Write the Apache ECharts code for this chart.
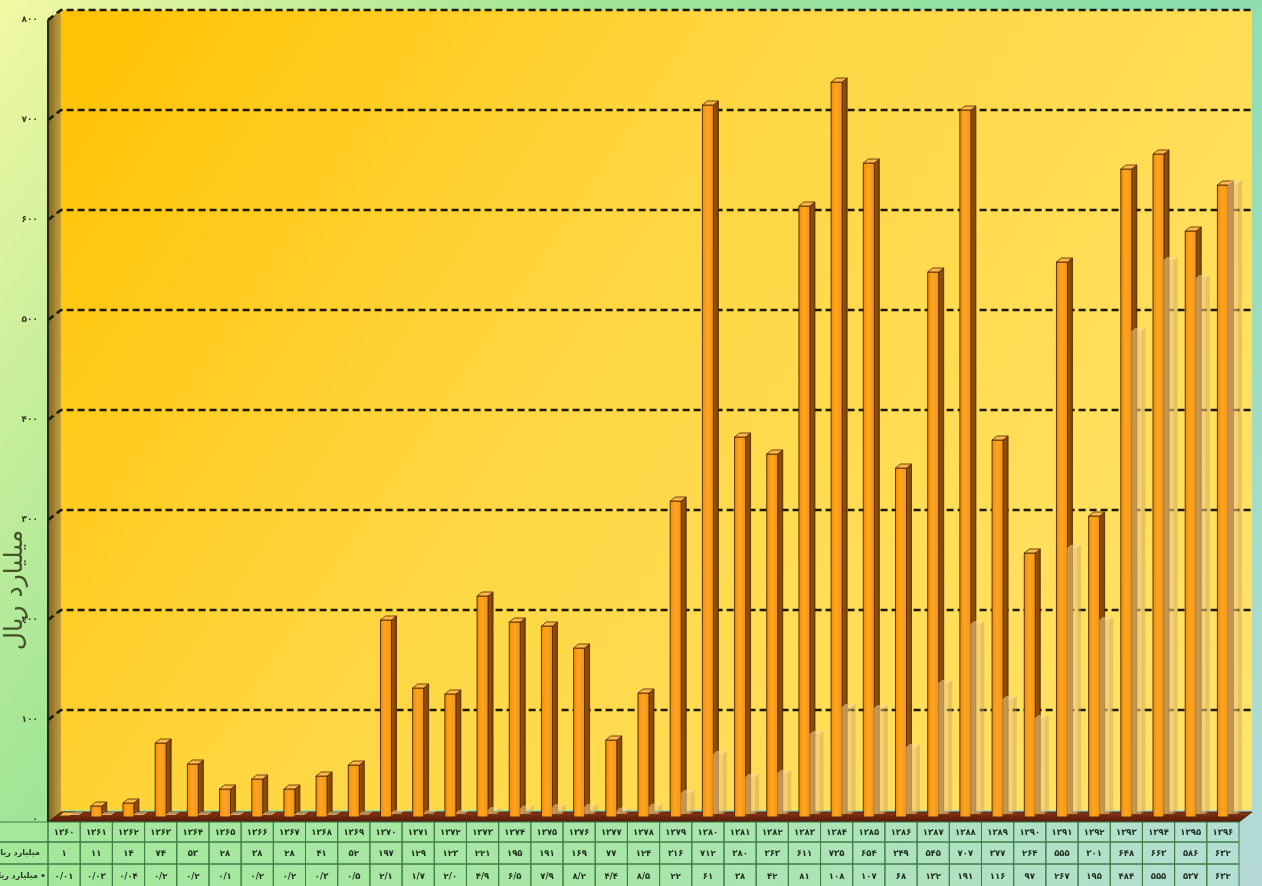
<!DOCTYPE html>
<html><head><meta charset="utf-8">
<script src="https://cdn.jsdelivr.net/npm/echarts@6/dist/echarts.min.js"></script>
<style>html,body{margin:0;padding:0;background:#fff}#c{width:1262px;height:886px;}</style>
</head><body><div id="c"></div>
<script>
// ---- data ----
const years = [1360,1361,1362,1363,1364,1365,1366,1367,1368,1369,1370,1371,1372,1373,1374,1375,1376,1377,1378,1379,1380,1381,1382,1383,1384,1385,1386,1387,1388,1389,1390,1391,1392,1393,1394,1395,1396];
const values1 = [1,11,14,74,53,28,38,28,41,52,197,129,123,221,195,191,169,77,124,316,712,380,363,611,735,654,349,545,707,377,264,555,301,648,663,586,632];
const values2 = [0.01,0.03,0.04,0.2,0.2,0.1,0.2,0.2,0.3,0.5,2.1,1.7,2.0,4.9,6.5,7.9,8.2,4.4,8.5,22,61,38,42,81,108,107,68,132,191,116,97,267,195,484,555,537,632];
const yTicks = [0,100,200,300,400,500,600,700,800];
const axisTitle = 'میلیارد ریال';
const rowLabel1 = 'میلیارد ریال';
const rowLabel2 = 'میلیارد ریال';

// ---- helpers ----
const FONT = "'DejaVu Sans', sans-serif";
const FA = '۰۱۲۳۴۵۶۷۸۹';
function toFa(s){ return String(s).replace(/\d/g, d => FA[+d]).replace('.', '/'); }
function fmt2(v){ if (v < 0.1) return v.toFixed(2); if (v < 10) return v.toFixed(1); return String(Math.round(v)); }
const DX = 13, DY = -10;
const lin = (x,y,x2,y2,stops) => ({type:'linear', x, y, x2, y2, colorStops: stops.map(s => ({offset:s[0], color:s[1]}))});

const chart = echarts.init(document.getElementById('c'), null, {renderer:'canvas'});

function renderScene(params, api){
  const cs = params.coordSys;
  const x0 = cs.x, x1 = cs.x + cs.width;
  const yBase = api.coord([0, yTicks[0]])[1];
  const yTop = api.coord([0, yTicks[yTicks.length-1]])[1];
  const ch = [];
  ch.push({type:'rect', shape:{x:x0+DX, y:yTop+DY, width:cs.width, height:yBase-yTop},
    style:{fill: lin(0,0,1,1,[[0,'#FFC200'],[0.4,'#FFD640'],[1,'#FFE46C']])}});
  ch.push({type:'polygon', shape:{points:[[x0,yTop],[x0+DX,yTop+DY],[x0+DX,yBase+DY+2],[x0,yBase+2]]},
    style:{fill: lin(0,0,1,0,[[0,'#806622'],[1,'#c4a03c']])}});
  ch.push({type:'polygon', shape:{points:[[x0,yBase+2],[x1,yBase+2],[x1+DX,yBase+DY+2],[x0+DX,yBase+DY+2]]},
    style:{fill: lin(0,0,0,1,[[0,'#8e3a18'],[0.5,'#6e2610'],[1,'#551a08']]), stroke:'#3a1204', lineWidth:0.8}});
  yTicks.forEach(v => {
    if (v === 0) return;
    const y = api.coord([0, v])[1];
    ch.push({type:'polyline', shape:{points:[[x0,y],[x0+DX,y+DY],[x1+DX,y+DY]]},
      style:{stroke:'#1d1a0c', lineWidth:2.6, lineDash:[7,4], fill:null}});
  });
  ch.push({type:'line', shape:{x1:x0, y1:yTop, x2:x0, y2:yBase+2}, style:{stroke:'#2a2610', lineWidth:2}});
  const T0 = yBase+2, T1 = T0+20, T2 = T1+22, T3 = 887;
  ch.push({type:'rect', shape:{x:0, y:T0, width:x1, height:T3-T0},
    style:{fill: lin(0,0,1,0,[[0,'#A4E89A'],[0.5,'#A8E6A8'],[1,'#B4DFD4']])}});
  [[T0,T1],[T1,T2],[T2,T3]].forEach(r => {
    ch.push({type:'rect', shape:{x:-1, y:r[0], width:x0+1, height:r[1]-r[0]},
      style:{fill:null, stroke:'#3f7d48', lineWidth:1}});
  });
  ch.push({type:'text', style:{text:rowLabel1, x:x0-8, y:(T1+T2)/2, align:'right', verticalAlign:'middle', font:'bold 8px '+FONT, fill:'#2a3a2a'}});
  ch.push({type:'text', style:{text:rowLabel2, x:x0-10, y:(T2+T3)/2, align:'right', verticalAlign:'middle', font:'bold 8px '+FONT, fill:'#2a3a2a'}});
  ch.push({type:'circle', shape:{cx:x0-5, cy:(T2+T3)/2, r:1.5}, style:{fill:'#2a3a2a'}});
  return {type:'group', children: ch};
}

function renderTable(params, api){
  const i = api.value(0);
  const c = api.coord([i, 0])[0];
  const base = api.coord([i, 0])[1];
  const bw = api.size([1, 0])[0];
  const l = c - bw/2;
  const T0 = base+2, T1 = T0+20, T2 = T1+22, T3 = 887;
  const rows = [[T0,T1],[T1,T2],[T2,T3]];
  const texts = [toFa(years[i]), toFa(values1[i]), toFa(fmt2(values2[i]))];
  const ch = [];
  rows.forEach((r, k) => {
    ch.push({type:'rect', shape:{x:l, y:r[0], width:bw, height:r[1]-r[0]}, style:{fill:null, stroke:'#3f7d48', lineWidth:1}});
    ch.push({type:'text', style:{text:texts[k], x:c, y:(r[0]+r[1])/2+1, align:'center', verticalAlign:'middle', font:'bold 8.5px '+FONT, fill:'#1e2e1e'}});
  });
  return {type:'group', children: ch};
}

function renderMain(params, api){
  const i = api.value(0), v = api.value(1);
  const top = api.coord([i, v]), base = api.coord([i, 0]);
  const cx = top[0], yt = top[1]-3, yb = base[1]-3;
  const w = 11, sx = 5, sy = 4;
  const l = cx - w/2, r = cx + w/2;
  const st = '#4a2500';
  return {type:'group', children:[
    {type:'polygon', shape:{points:[[r,yb],[r+sx,yb-sy],[r+sx,yt-sy],[r,yt]]}, style:{fill:lin(0,0,1,0,[[0,'#9c5508'],[1,'#7a4206']]), stroke:st, lineWidth:0.8}},
    {type:'rect', shape:{x:l, y:yt, width:w, height:yb-yt}, style:{fill:lin(0,0,1,0,[[0,'#f08a08'],[0.45,'#ffa522'],[1,'#f39212']]), stroke:st, lineWidth:0.9}},
    {type:'polygon', shape:{points:[[l,yt],[r,yt],[r+sx,yt-sy],[l+sx,yt-sy]]}, style:{fill:'#ffb848', stroke:st, lineWidth:0.8}}
  ]};
}

function renderBack(params, api){
  const i = api.value(0), v = api.value(1);
  const top = api.coord([i, v]), base = api.coord([i, 0]);
  const cx = top[0], yt = top[1]-5, yb = base[1]-6;
  const l = cx + 5, w = 10, sx = 4, sy = 3;
  const r = l + w;
  return {type:'group', children:[
    {type:'rect', shape:{x:l, y:yt, width:w, height:yb-yt}, style:{fill:'rgba(236,200,130,0.6)'}},
    {type:'polygon', shape:{points:[[r,yb],[r+sx,yb-sy],[r+sx,yt-sy],[r,yt]]}, style:{fill:'rgba(205,160,90,0.45)'}},
    {type:'polygon', shape:{points:[[l,yt],[r,yt],[r+sx,yt-sy],[l+sx,yt-sy]]}, style:{fill:'rgba(245,215,150,0.55)'}}
  ]};
}

const option = {
  animation: false,
  backgroundColor: lin(0,0,1,1,[[0,'#F2F8A2'],[0.3,'#A2E696'],[0.62,'#8ADEAA'],[1,'#B6DAD8']]),
  grid: {left:48, right:23, top:20, bottom:66},
  xAxis: {type:'category', data: years.map(String), show:false},
  yAxis: {type:'value', min:0, max:800, interval:100,
    axisLine:{show:false}, axisTick:{show:false}, splitLine:{show:false},
    axisLabel:{formatter: v => toFa(v), fontFamily: FONT, fontSize:9, fontWeight:'bold', color:'#3a3a22', margin:10}},
  graphic: [{type:'text', rotation: Math.PI/2, x:15, y:590, z:10,
    style:{text: axisTitle, align:'center', verticalAlign:'middle', font:'25px '+FONT, fill:'#46522a'}}],
  series: [
    {type:'custom', z:1, renderItem: renderScene, data:[[0,0]], silent:true},
    {type:'custom', z:2, renderItem: renderTable, data: years.map((y,i)=>[i,0]), silent:true},
    {type:'custom', z:3, renderItem: renderMain, data: values1.map((v,i)=>[i,v]), silent:true},
    {type:'custom', z:4, renderItem: renderBack, data: values2.map((v,i)=>[i,v]), silent:true}
  ]
};
chart.setOption(option);
</script>
</body></html>
